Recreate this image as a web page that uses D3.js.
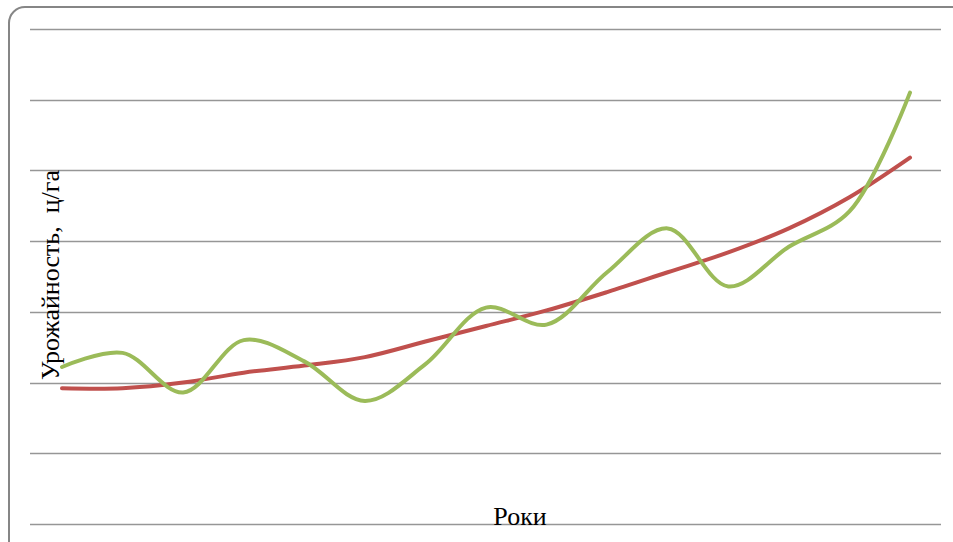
<!DOCTYPE html>
<html><head><meta charset="utf-8">
<script src="https://cdn.jsdelivr.net/npm/d3@7"></script>
<style>body{margin:0;background:#fff;}svg{display:block;}
.lbl{font-family:"Liberation Serif","Times New Roman","DejaVu Serif",serif;font-size:26px;fill:#000;white-space:pre;}</style>
</head><body>
<svg id="chart" width="953" height="542"></svg>
<script>
const years = d3.range(1, 16);
const actual = [11.1, 12.1, 9.3, 13.0, 11.5, 8.7, 11.3, 15.3, 14.1, 17.8, 20.9, 16.8, 19.6, 22.1, 30.5];
const trend = [9.6, 9.6, 10.0, 10.7, 11.2, 11.8, 12.9, 14.0, 15.1, 16.4, 17.8, 19.2, 20.9, 23.1, 25.9];
const yTicks = [0, 5, 10, 15, 20, 25, 30, 35];
const yLabel = "Урожайность,  ц/га";
const xLabel = "Роки";

const svg = d3.select("#chart");
svg.append("rect").attr("x", 9).attr("y", 7).attr("width", 960).attr("height", 560)
  .attr("rx", 16).attr("fill", "#fff").attr("stroke", "#868686").attr("stroke-width", 2);

const x = d3.scaleLinear().domain([1, 15]).range([62, 910]);
const y = d3.scaleLinear().domain([0, 35]).range([524, 29]);

svg.append("g").selectAll("line").data(yTicks).join("line")
  .attr("x1", 30).attr("x2", 941)
  .attr("y1", d => Math.round(y(d)) + 0.5).attr("y2", d => Math.round(y(d)) + 0.5)
  .attr("stroke", "#969696").attr("stroke-width", 1.3);

const line = d3.line().x((d, i) => x(years[i])).y(d => y(d)).curve(d3.curveCatmullRom.alpha(0.5));

svg.append("path").datum(trend).attr("d", line).attr("fill", "none")
  .attr("stroke", "#C0504D").attr("stroke-width", 4).attr("stroke-linecap", "round");
svg.append("path").datum(actual).attr("d", line).attr("fill", "none")
  .attr("stroke", "#9BBB59").attr("stroke-width", 4).attr("stroke-linecap", "round");

svg.append("text").attr("class", "lbl").attr("transform", "translate(59,275) rotate(-90)")
  .attr("text-anchor", "middle").text(yLabel);
svg.append("text").attr("class", "lbl").attr("x", 520).attr("y", 525)
  .attr("text-anchor", "middle").text(xLabel);
</script>
</body></html>
